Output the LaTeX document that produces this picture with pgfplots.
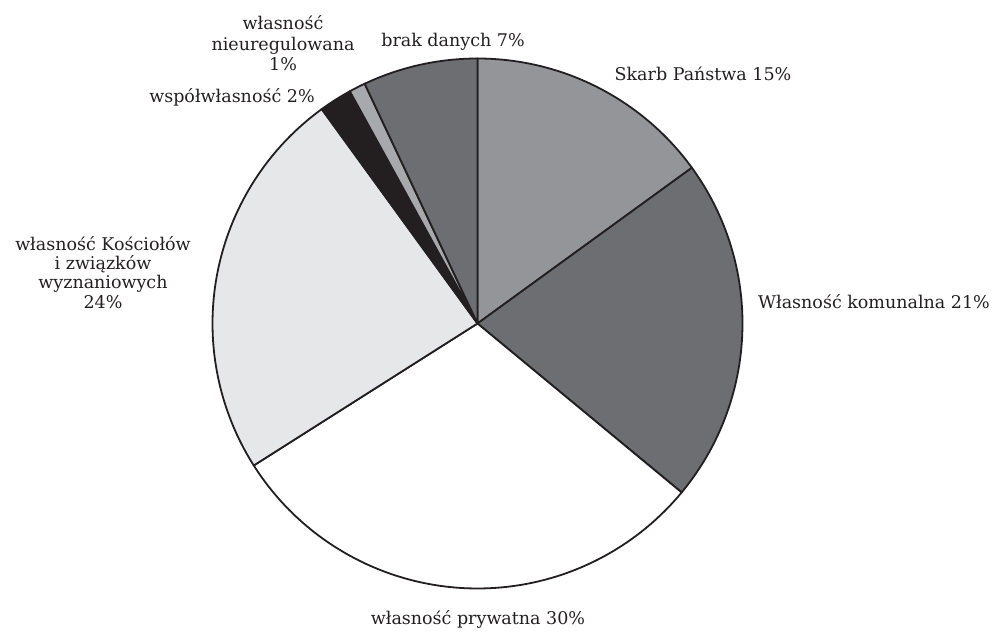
\documentclass[border=0pt]{standalone}
\usepackage{pgfplots}
\pgfplotsset{compat=1.18}
\usepackage{fontspec}
\setmainfont{DejaVu Serif}
\definecolor{cSkarb}{HTML}{939598}
\definecolor{cKom}{HTML}{6D6E71}
\definecolor{cPryw}{HTML}{FFFFFF}
\definecolor{cKosc}{HTML}{E6E7E8}
\definecolor{cWspol}{HTML}{231F20}
\definecolor{cNieur}{HTML}{A7A9AC}
\definecolor{cBrak}{HTML}{6D6E71}
\definecolor{ink}{HTML}{231F20}
\tikzset{lbl/.style={anchor=base, text=ink, font=\fontsize{17.5}{21}\selectfont}}
\begin{document}
\begin{tikzpicture}
\def\cx{477.5}\def\cy{306.5}\def\R{265}
% shares in percent, clockwise from the top
\def\sA{15}\def\sB{21}\def\sC{30}\def\sD{24}\def\sE{2}\def\sF{1}\def\sG{7}
\pgfmathsetmacro\aA{90}
\pgfmathsetmacro\aB{\aA-3.6*\sA}
\pgfmathsetmacro\aC{\aB-3.6*\sB}
\pgfmathsetmacro\aD{\aC-3.6*\sC}
\pgfmathsetmacro\aE{\aD-3.6*\sD}
\pgfmathsetmacro\aF{\aE-3.6*\sE}
\pgfmathsetmacro\aG{\aF-3.6*\sF}
\pgfmathsetmacro\aH{\aG-3.6*\sG}
\begin{axis}[scale only axis, width=997pt, height=630pt,
  xmin=0, xmax=997, ymin=0, ymax=630, hide axis, clip=false,
  every axis plot/.append style={draw=ink, line width=1.8pt, line join=round, samples=80}]
\path (axis cs:0,0) rectangle (axis cs:997,630);
\addplot[fill=cSkarb, domain=\aB:\aA] ({\cx+\R*cos(x)},{\cy+\R*sin(x)}) -- (axis cs:\cx,\cy) -- cycle;
\addplot[fill=cKom, domain=\aC:\aB] ({\cx+\R*cos(x)},{\cy+\R*sin(x)}) -- (axis cs:\cx,\cy) -- cycle;
\addplot[fill=cPryw, domain=\aD:\aC] ({\cx+\R*cos(x)},{\cy+\R*sin(x)}) -- (axis cs:\cx,\cy) -- cycle;
\addplot[fill=cKosc, domain=\aE:\aD] ({\cx+\R*cos(x)},{\cy+\R*sin(x)}) -- (axis cs:\cx,\cy) -- cycle;
\addplot[fill=cWspol, domain=\aF:\aE, samples=10] ({\cx+\R*cos(x)},{\cy+\R*sin(x)}) -- (axis cs:\cx,\cy) -- cycle;
\addplot[fill=cNieur, domain=\aG:\aF, samples=6] ({\cx+\R*cos(x)},{\cy+\R*sin(x)}) -- (axis cs:\cx,\cy) -- cycle;
\addplot[fill=cBrak, domain=\aH:\aG, samples=30] ({\cx+\R*cos(x)},{\cy+\R*sin(x)}) -- (axis cs:\cx,\cy) -- cycle;
\node[lbl] at (axis cs:283,600.7) {własność};
\node[lbl] at (axis cs:283,579.3) {nieuregulowana};
\node[lbl] at (axis cs:283,559.3) {1\%};
\node[lbl] at (axis cs:453,583.3) {brak danych 7\%};
\node[lbl] at (axis cs:232,527) {współwłasność 2\%};
\node[lbl] at (axis cs:703,549) {Skarb Państwa 15\%};
\node[lbl] at (axis cs:103,379.3) {własność Kościołów};
\node[lbl] at (axis cs:103,360) {i związków};
\node[lbl] at (axis cs:103,341.7) {wyznaniowych};
\node[lbl] at (axis cs:103,321.7) {24\%};
\node[lbl] at (axis cs:874,321.7) {Własność komunalna 21\%};
\node[lbl] at (axis cs:478,5) {własność prywatna 30\%};
\end{axis}
\end{tikzpicture}
\end{document}
